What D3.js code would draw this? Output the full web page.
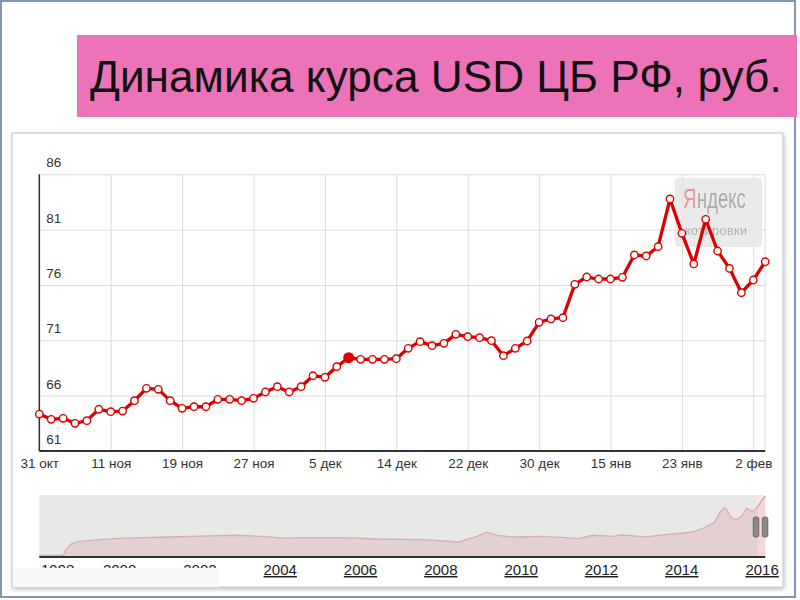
<!DOCTYPE html>
<html>
<head>
<meta charset="utf-8">
<script src="https://cdn.jsdelivr.net/npm/d3@7"></script>
<style>
body { margin: 0; background: #fff; }
svg { display: block; font-family: "Liberation Sans", Arial, sans-serif; }
</style>
</head>
<body>
<svg id="chart" width="800" height="600"></svg>
<script>
// курс USD ЦБ РФ по рабочим дням, 31 окт .. начало фев
const rates = [64.34, 63.86, 63.95, 63.5, 63.74, 64.77, 64.55, 64.61, 65.55, 66.66,
  66.57, 65.55, 64.86, 65.0, 65.0, 65.67, 65.67, 65.55, 65.76, 66.33,
  66.81, 66.33, 66.81, 67.8, 67.66, 68.62, 69.43, 69.28, 69.28, 69.28,
  69.34, 70.28, 70.88, 70.52, 70.73, 71.54, 71.33, 71.24, 70.97, 69.61,
  70.28, 70.94, 72.63, 72.93, 73.05, 76.06, 76.72, 76.54, 76.54, 76.69,
  78.71, 78.62, 79.46, 83.77, 80.67, 77.9, 81.93, 79.07, 77.5, 75.3,
  76.45, 78.1];
const markedIdx = 26;

const xTickIdx = [0, 6, 12, 18, 24, 30, 36, 42, 48, 54, 60];
const xTickLabels = ["31 окт", "11 ноя", "19 ноя", "27 ноя", "5 дек", "14 дек",
  "22 дек", "30 дек", "15 янв", "23 янв", "2 фев"];
const yTicks = [61, 66, 71, 76, 81, 86];

// navigator: whole history since 1998
const navYears = [1998.0, 1998.6, 1998.66, 1998.8, 1999.0, 1999.5, 2000.0, 2001.2, 2002.0, 2002.9,
  2003.66, 2004.08, 2004.64, 2005.9, 2006.36, 2007.57, 2008.45, 2008.9, 2009.15, 2009.4,
  2009.85, 2010.5, 2011.0, 2011.45, 2011.77, 2012.27, 2012.5, 2013.1, 2013.55, 2014.05,
  2014.29, 2014.54, 2014.8, 2014.95, 2015.05, 2015.12, 2015.24, 2015.37, 2015.5, 2015.62,
  2015.75, 2015.87, 2016.0, 2016.08];
const navValues = [6.0, 6.1, 13.5, 21.4, 24.5, 26.7, 28.5, 30.2, 31.5, 32.5,
  30.7, 28.7, 29.5, 29.0, 27.6, 26.7, 23.7, 31, 36.5, 32.4,
  30.2, 31, 29.8, 28, 32.5, 31, 33, 30.5, 33, 35.5,
  37, 42, 48.7, 61.8, 69, 66, 55, 53, 58, 68,
  64, 68, 79, 83.6];
const yearTicks = [1998, 2000, 2002, 2004, 2006, 2008, 2010, 2012, 2014, 2016];
const selStart = 2015.88;

const titleText = "Динамика курса USD ЦБ РФ, руб.";

const svg = d3.select("#chart");

// slide frame
svg.append("rect").attr("x", 1).attr("y", 1).attr("width", 794).attr("height", 596)
  .attr("fill", "#fff").attr("stroke", "#8096b4").attr("stroke-width", 2);

// title
svg.append("rect").attr("x", 77).attr("y", 35).attr("width", 720).attr("height", 82)
  .attr("fill", "#ec73b8");
const title = svg.append("text").attr("x", 90).attr("y", 92)
  .attr("font-size", 42).attr("fill", "#111").text(titleText);
const tw = title.node().getComputedTextLength();
title.attr("font-size", 42 * 692 / tw);

// chart box with shadow
const defs = svg.append("defs");
defs.append("filter").attr("id", "sh").attr("x", "-5%").attr("y", "-5%")
  .attr("width", "110%").attr("height", "110%")
  .append("feDropShadow").attr("dx", 1).attr("dy", 2).attr("stdDeviation", 2)
  .attr("flood-color", "#000").attr("flood-opacity", 0.25);
svg.append("rect").attr("x", 12).attr("y", 133).attr("width", 771).attr("height", 454)
  .attr("fill", "#fff").attr("stroke", "#c4c4c4").attr("filter", "url(#sh)");

// main plot
const x = d3.scaleLinear().domain([0, 61]).range([39.3, 765.2]);
const y = d3.scaleLinear().domain([61, 86]).range([451, 174.3]);

const yAxis = svg.append("g").attr("transform", "translate(39.3,0)")
  .call(d3.axisLeft(y).tickValues(yTicks).tickSize(-(765.2 - 39.3)).tickFormat(d3.format("d")));
yAxis.select(".domain").remove();
yAxis.selectAll(".tick line").attr("stroke", "#dcdcdc");
yAxis.selectAll(".tick text").attr("x", 7).attr("dy", "-0.55em")
  .attr("text-anchor", "start").attr("font-size", 13.5).attr("fill", "#333")
  .attr("font-family", "Liberation Sans, Arial, sans-serif");

const xAxis = svg.append("g").attr("transform", "translate(0,451)")
  .call(d3.axisBottom(x).tickValues(xTickIdx).tickSize(-(451 - 174.3))
    .tickFormat((d, i) => xTickLabels[i]));
xAxis.select(".domain").remove();
xAxis.selectAll(".tick line").attr("stroke", "#dcdcdc");
xAxis.selectAll(".tick text").attr("y", 17).attr("dy", 0)
  .attr("font-size", 13.5).attr("fill", "#333")
  .attr("font-family", "Liberation Sans, Arial, sans-serif");

// right border of plot
svg.append("line").attr("x1", x(61)).attr("x2", x(61)).attr("y1", y(86)).attr("y2", y(61))
  .attr("stroke", "#dcdcdc");

// watermark
const wm = svg.append("g").attr("opacity", 0.8);
wm.append("rect").attr("x", 675).attr("y", 178).attr("width", 87).attr("height", 69)
  .attr("rx", 4).attr("fill", "#e6e6e6");
const logo = wm.append("g").attr("transform", "translate(683,208) scale(0.66,1)");
const ya = logo.append("text").attr("x", 0).attr("y", 0).attr("font-size", 28)
  .attr("fill", "#e27a7a").text("Я");
logo.append("text").attr("x", ya.node().getComputedTextLength() + 1).attr("y", 0)
  .attr("font-size", 28).attr("fill", "#959595").text("ндекс");
wm.append("text").attr("x", 685).attr("y", 235).attr("font-size", 12.5)
  .attr("fill", "#a0a0a0").attr("textLength", 62).attr("lengthAdjust", "spacing")
  .text("котировки");

// axes lines
svg.append("line").attr("x1", x(0)).attr("x2", x(0)).attr("y1", y(86)).attr("y2", y(61))
  .attr("stroke", "#333").attr("stroke-width", 1.5);
svg.append("line").attr("x1", x(0)).attr("x2", x(61)).attr("y1", y(61)).attr("y2", y(61))
  .attr("stroke", "#333").attr("stroke-width", 2);

// series
const line = d3.line().x((d, i) => x(i)).y(d => y(d));
svg.append("path").datum(rates).attr("d", line).attr("fill", "none")
  .attr("stroke", "#dd0000").attr("stroke-width", 3.3).attr("stroke-linejoin", "round");
svg.append("g").selectAll("circle").data(rates).join("circle")
  .attr("cx", (d, i) => x(i)).attr("cy", d => y(d))
  .attr("r", (d, i) => i === markedIdx ? 4.8 : 3.7)
  .attr("fill", (d, i) => i === markedIdx ? "#dd0000" : "#fff")
  .attr("stroke", "#dd0000").attr("stroke-width", 1.4);

// navigator
const xn = d3.scaleLinear().domain([1998, 2016.08]).range([39.3, 765.3]);
const yn = d3.scaleLinear().domain([4, 84]).range([557, 496]);
const nav = d3.range(navYears.length).map(i => ({ t: navYears[i], v: navValues[i] }));

svg.append("rect").attr("x", xn(selStart)).attr("y", 495)
  .attr("width", xn(2016.08) - xn(selStart)).attr("height", 62).attr("fill", "#fae4e6");
svg.append("path").datum(nav)
  .attr("d", d3.area().x(d => xn(d.t)).y0(557).y1(d => yn(d.v)))
  .attr("fill", "#f6d6d8");
svg.append("path").datum(nav)
  .attr("d", d3.line().x(d => xn(d.t)).y(d => yn(d.v)))
  .attr("fill", "none").attr("stroke", "#e59aa0").attr("stroke-width", 1.3);
svg.append("rect").attr("x", xn(1998)).attr("y", 495)
  .attr("width", xn(selStart) - xn(1998)).attr("height", 62)
  .attr("fill", "#c8c8c8").attr("opacity", 0.42);
svg.append("line").attr("x1", xn(1998)).attr("x2", xn(2016.08)).attr("y1", 557).attr("y2", 557)
  .attr("stroke", "#333").attr("stroke-width", 2);

// handles
svg.append("g").selectAll("rect").data([xn(selStart) - 4, xn(2016.08) - 3]).join("rect")
  .attr("x", d => d).attr("y", 517).attr("width", 5.5).attr("height", 20).attr("rx", 2)
  .attr("fill", "#8a8a8a").attr("stroke", "#6c6c6c");

// year labels
svg.append("g").selectAll("text").data(yearTicks).join("text")
  .attr("x", d => d === 1998 ? 41 : xn(d))
  .attr("y", 575)
  .attr("text-anchor", d => d === 1998 ? "start" : "middle")
  .attr("font-size", 15).attr("fill", "#222")
  .attr("text-decoration", "underline")
  .text(d => d);

// washed-out patch over the early years
svg.append("rect").attr("x", 13).attr("y", 568).attr("width", 206).attr("height", 19)
  .attr("fill", "#f8f8f8");
</script>
</body>
</html>
